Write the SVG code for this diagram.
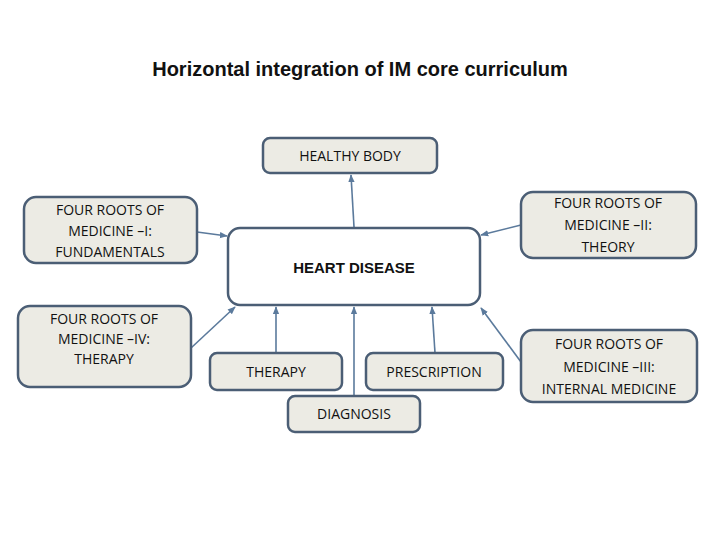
<svg xmlns="http://www.w3.org/2000/svg" width="720" height="540" viewBox="0 0 720 540">
<defs>
<style>
.b{fill:#ecebe4;stroke:#4b5e75;stroke-width:2.5}
.t{font-family:"Open Sans","Liberation Sans",sans-serif;font-size:14px;fill:#111;text-anchor:middle}
.c{stroke:#5b7a9c;stroke-width:1.6;fill:none;marker-end:url(#a)}
</style>
<marker id="a" viewBox="0 0 10 10" refX="9" refY="5" markerWidth="5" markerHeight="5" orient="auto"><path d="M0,1 L10,5 L0,9 z" fill="#5b7a9c"/></marker>
</defs>
<rect width="720" height="540" fill="#fff"/>
<text x="360" y="76" font-family="Liberation Sans,sans-serif" font-size="20" font-weight="bold" text-anchor="middle" fill="#111">Horizontal integration of IM core curriculum</text>
<g id="connectors">
<path class="c" d="M354,227 L351,175"/>
<path class="c" d="M197,232 L227,236"/>
<path class="c" d="M191,348 L235,307"/>
<path class="c" d="M521,225 L481,235"/>
<path class="c" d="M521,362 L481,308"/>
<path class="c" d="M276,353 L276,307"/>
<path class="c" d="M354,396 L354,307"/>
<path class="c" d="M435,353 L432,307"/>
</g>
<g id="heart"><rect x="228" y="228" width="252" height="77" rx="12" fill="#fff" stroke="#4b5e75" stroke-width="2.5"/><text x="354" y="273" font-family="Liberation Sans,sans-serif" font-size="15" font-weight="bold" text-anchor="middle" fill="#111">HEART DISEASE</text></g>
<g id="healthy"><rect class="b" x="263" y="138" width="174" height="35" rx="7"/><text class="t" x="350" y="161">HEALTHY BODY</text></g>
<g id="r1"><rect class="b" x="24" y="197" width="173" height="66" rx="12"/><text class="t" x="110" y="215">FOUR ROOTS OF</text><text class="t" x="110" y="236">MEDICINE –I:</text><text class="t" x="110" y="257">FUNDAMENTALS</text></g>
<g id="r4"><rect class="b" x="18" y="306" width="173" height="81" rx="12"/><text class="t" x="104" y="324">FOUR ROOTS OF</text><text class="t" x="104" y="344">MEDICINE –IV:</text><text class="t" x="104" y="364">THERAPY</text></g>
<g id="r2"><rect class="b" x="521" y="192" width="175" height="66" rx="12"/><text class="t" x="608" y="208">FOUR ROOTS OF</text><text class="t" x="608" y="230">MEDICINE –II:</text><text class="t" x="608" y="252">THEORY</text></g>
<g id="r3"><rect class="b" x="521" y="330" width="176" height="72" rx="12"/><text class="t" x="609" y="349">FOUR ROOTS OF</text><text class="t" x="609" y="372">MEDICINE –III:</text><text class="t" x="609" y="394">INTERNAL MEDICINE</text></g>
<g id="therapy"><rect class="b" x="210" y="353" width="132" height="37" rx="7"/><text class="t" x="276" y="377">THERAPY</text></g>
<g id="prescription"><rect class="b" x="366" y="353" width="137" height="37" rx="7"/><text class="t" x="434" y="377">PRESCRIPTION</text></g>
<g id="diagnosis"><rect class="b" x="288" y="396" width="132" height="36" rx="7"/><text class="t" x="354" y="419">DIAGNOSIS</text></g>
</svg>
